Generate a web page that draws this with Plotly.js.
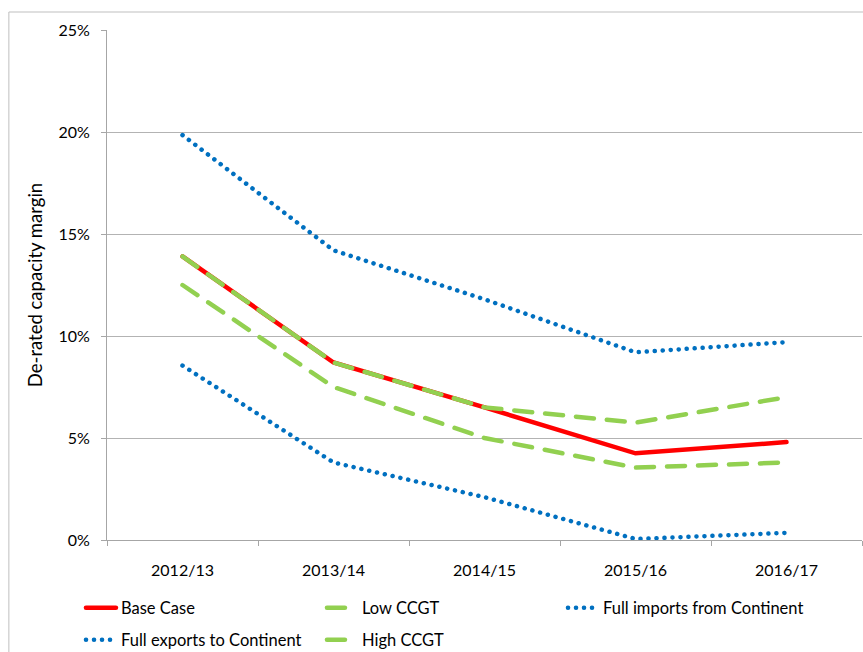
<!DOCTYPE html>
<html>
<head>
<meta charset="utf-8">
<script src="https://cdn.plot.ly/plotly-3.0.1.min.js"></script>
<style>
  html, body { margin: 0; padding: 0; background: #fff; }
  #chart { width: 863px; height: 652px; }
</style>
</head>
<body>
<div id="chart"></div>
<script>
var years = ["2012/13", "2013/14", "2014/15", "2015/16", "2016/17"];
var baseCase = [13.9, 8.7, 6.5, 4.25, 4.8];
var lowCCGT = [12.5, 7.5, 5.0, 3.55, 3.8];
var fullImports = [19.85, 14.2, 11.8, 9.2, 9.7];
var fullExports = [8.55, 3.8, 2.1, 0.05, 0.35];
var highCCGT = [13.9, 8.7, 6.5, 5.75, 7.0];
var yTickVals = [0, 5, 10, 15, 20, 25];
var yTickText = ["0%", "5%", "10%", "15%", "20%", "25%"];

var FONT = "Lato, 'Open Sans', sans-serif";
var green = "#92d050";
var blue = "#0070c0";
var DOT = "0.1px,7.9px";
var DASH = "18px,13px";

var traces = [
  { x: years, y: baseCase, name: "Base Case", type: "scatter", mode: "lines", legend: "legend",
    line: { color: "#ff0000", width: 4.5 } },
  { x: years, y: lowCCGT, name: "Low CCGT", type: "scatter", mode: "lines", legend: "legend",
    line: { color: green, width: 4.5, dash: DASH } },
  { x: years, y: fullImports, name: "Full imports from Continent", type: "scatter", mode: "lines", legend: "legend",
    line: { color: blue, width: 4.5, dash: DOT } },
  { x: years, y: fullExports, name: "Full exports to Continent", type: "scatter", mode: "lines", legend: "legend2",
    line: { color: blue, width: 4.5, dash: DOT } },
  { x: years, y: highCCGT, name: "High CCGT", type: "scatter", mode: "lines", legend: "legend2",
    line: { color: green, width: 4.5, dash: DASH } }
];

var legendCommon = {
  orientation: "h", xanchor: "left", yanchor: "middle",
  entrywidth: 196, entrywidthmode: "pixels",
  font: { family: FONT, size: 16.5, color: "#000" },
  bgcolor: "rgba(0,0,0,0)", itemwidth: 30
};

var layout = {
  width: 863, height: 652,
  margin: { l: 107, r: 1, t: 30, b: 112, autoexpand: false },
  paper_bgcolor: "#fff", plot_bgcolor: "#fff",
  font: { family: FONT, size: 16, color: "#000" },
  showlegend: true,
  legend: Object.assign({}, legendCommon, { x: (81 - 107) / 754, y: (540 - 608) / 510 }),
  legend2: Object.assign({}, legendCommon, { x: (81 - 107) / 754, y: (540 - 640) / 510 }),
  xaxis: {
    type: "category", showgrid: false, zeroline: false,
    showline: true, linecolor: "#a6a6a6", linewidth: 1,
    ticks: "outside", tickson: "boundaries", ticklen: 5, tickcolor: "#a6a6a6",
    tickfont: { family: FONT, size: 16 }, range: [-0.5, 4.5], ticklabelstandoff: 16,
    automargin: false
  },
  yaxis: {
    range: [0, 25], tickvals: yTickVals, ticktext: yTickText,
    showgrid: true, gridcolor: "#b3b3b3", gridwidth: 1, zeroline: false,
    showline: true, linecolor: "#a6a6a6", linewidth: 1,
    ticks: "outside", ticklen: 5, tickcolor: "#a6a6a6",
    tickfont: { family: FONT, size: 16 }, ticklabelstandoff: 8, automargin: false,
    title: { text: "De-rated capacity margin", font: { family: FONT, size: 18.5 }, standoff: 10 }
  },
  shapes: [
    { type: "line", xref: "paper", yref: "paper",
      x0: -98/754, x1: -98/754, y0: 1 + 18/510, y1: -120/510,
      line: { color: "#bfbfbf", width: 1 } },
    { type: "line", xref: "paper", yref: "paper",
      x0: -98/754, x1: 2/754 + 1, y0: 1 + 18/510, y1: 1 + 18/510,
      line: { color: "#bfbfbf", width: 1 } }
  ]
};

Plotly.newPlot("chart", traces, layout, { displayModeBar: false, staticPlot: true }).then(function (gd) {
  var paths = gd.querySelectorAll(".scatterlayer path.js-line, .legendlines path");
  paths.forEach(function (p) { p.style.strokeLinecap = "round"; });
});
</script>
</body>
</html>
